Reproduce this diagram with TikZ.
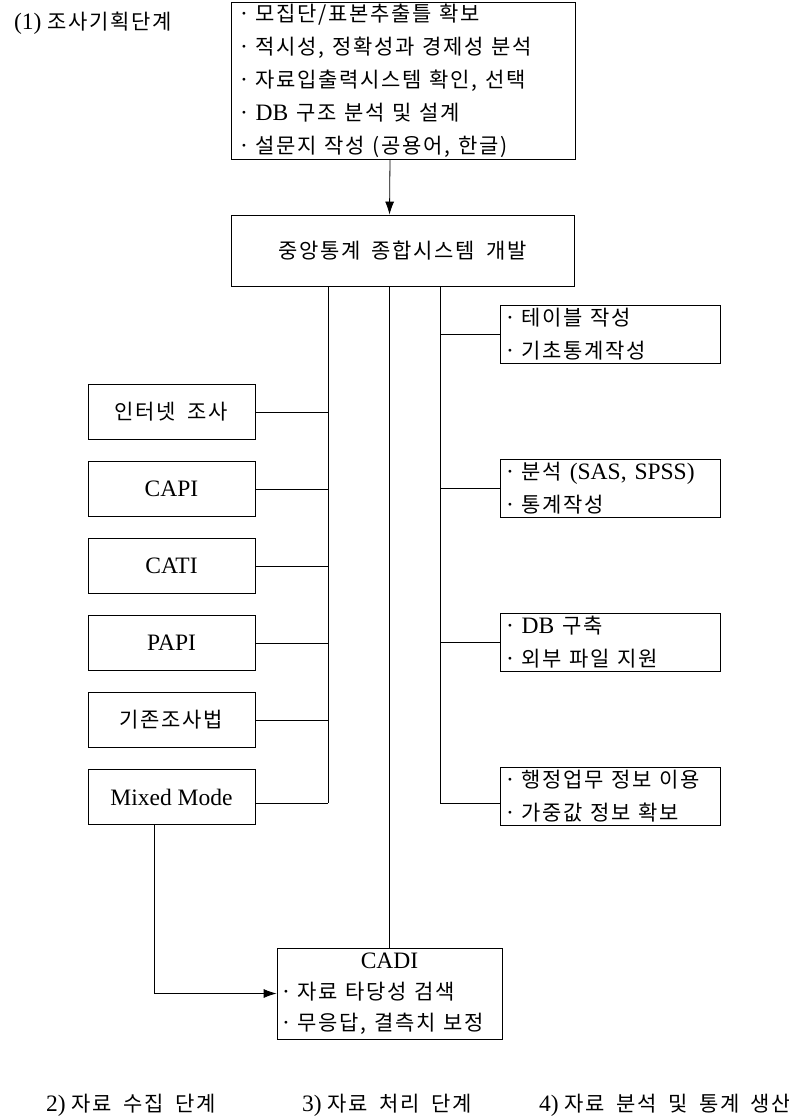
\documentclass[tikz,border=0pt]{standalone}
\usepackage{fontspec}
\setmainfont{Liberation Serif}[Scale=1.12]
\newfontfamily\kr{Noto Sans CJK KR}[LetterSpace=8, WordSpace=1.8]
\usetikzlibrary{arrows.meta}

\begin{document}
\begin{tikzpicture}[x=1pt, y=1pt, line width=0.8pt, node distance=77pt,
	every node/.style={font=\fontsize{21}{33}\selectfont},
	main node/.style={draw, inner sep=0pt},
	list node/.style={main node, align=left, inner xsep=6pt},
	mode node/.style={main node, minimum width=167pt, minimum height=55pt},
	out node/.style={list node, text width=208pt, minimum height=58pt}]
	\useasboundingbox (0,0) rectangle (789,-1120);

	\node[anchor=west] (t1) at (10,-23) {(1) {\kr 조사기획단계}};
	\node[list node, text width=326pt, minimum height=157pt, inner xsep=9pt] (plan) at (403,-80.5)
		{· {\kr 모집단/표본추출틀 확보}\\ · {\kr 적시성, 정확성과 경제성 분석}\\
		 · {\kr 자료입출력시스템 확인, 선택}\\ · DB {\kr 구조 분석 및 설계}\\
		 · {\kr 설문지 작성 (공용어, 한글)}};
	\node[main node, minimum width=343pt, minimum height=71pt] (sys) at (402.5,-250.5) {\kr 중앙통계 종합시스템 개발};

	% collection modes
	\node[mode node] (web) at (171.5,-412) {\kr 인터넷 조사};
	\node[mode node] (capi) [below of=web] {CAPI};
	\node[mode node] (cati) [below of=capi] {CATI};
	\node[mode node] (papi) [below of=cati] {PAPI};
	\node[mode node] (trad) [below of=papi] {\kr 기존조사법};
	\node[mode node] (mix) [below of=trad] {Mixed Mode};

	% outputs
	\node[out node] (tab) at (610,-334) {· {\kr 테이블 작성}\\ · {\kr 기초통계작성}};
	\node[out node] (ana) [below of=tab, node distance=154pt] {· {\kr 분석} (SAS, SPSS)\\ · {\kr 통계작성}};
	\node[out node] (db) [below of=ana, node distance=154pt] {· DB {\kr 구축}\\ · {\kr 외부 파일 지원}};
	\node[out node] (adm) [below of=db, node distance=154pt] {· {\kr 행정업무 정보 이용}\\ · {\kr 가중값 정보 확보}};

	\node[list node, text width=215pt, minimum height=91pt, inner xsep=5pt, font=\fontsize{21}{31}\selectfont] (cadi) at (389.5,-993.5)
		{\makebox[\linewidth]{CADI}\\ · {\kr 자료 타당성 검색}\\ · {\kr 무응답, 결측치 보정}};

	\node[anchor=west] (s2) at (42,-1105) {2) {\kr 자료 수집 단계}};
	\node[anchor=west] (s3) at (298,-1105) {3) {\kr 자료 처리 단계}};
	\node[anchor=west] (s4) at (535,-1105) {4) {\kr 자료 분석 및 통계 생산}};

	\coordinate (lb) at (328,-803);
	\coordinate (rb) at (440,-803);

	\draw[-{Latex[length=13pt,width=9pt]}] ([xshift=-13pt]plan.south) -- ([xshift=-13pt]sys.north);
	\draw (sys.south -| lb) -- (lb);
	\draw (sys.south -| rb) -- (rb);
	\draw (cadi.north |- sys.south) -- (cadi.north);
	\foreach \n in {web,capi,cati,papi,trad}
		\draw (\n.east) -- (\n.east -| lb);
	\draw ([yshift=-6pt]mix.east) -- (lb);
	\foreach \n in {tab,ana,db}
		\draw (\n.west -| rb) -- (\n.west);
	\draw (rb) -- ([yshift=-7pt]adm.west);
	\draw[-{Latex[length=13pt,width=9pt]}] ([xshift=-17.5pt]mix.south) |- (cadi.west);
\end{tikzpicture}
\end{document}
